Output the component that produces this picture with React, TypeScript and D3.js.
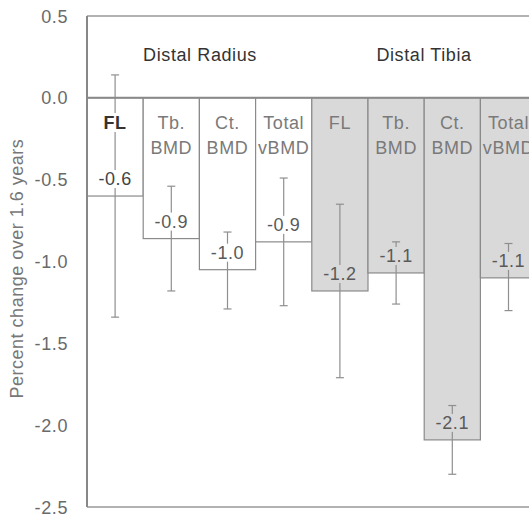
import * as React from 'react';
import * as d3 from 'd3';

const groups = ['Distal Radius', 'Distal Tibia'];
const categories = [
  ['FL'], ['Tb.', 'BMD'], ['Ct.', 'BMD'], ['Total', 'vBMD'],
  ['FL'], ['Tb.', 'BMD'], ['Ct.', 'BMD'], ['Total', 'vBMD'],
];
const site = [0, 0, 0, 0, 1, 1, 1, 1];
const values = [-0.6, -0.86, -1.05, -0.88, -1.18, -1.07, -2.09, -1.1];
const valueLabels = ['-0.6', '-0.9', '-1.0', '-0.9', '-1.2', '-1.1', '-2.1', '-1.1'];
const errHigh = [0.14, -0.54, -0.82, -0.49, -0.65, -0.88, -1.88, -0.89];
const errLow = [-1.34, -1.18, -1.29, -1.27, -1.71, -1.26, -2.3, -1.3];
const yTicks = [0.5, 0.0, -0.5, -1.0, -1.5, -2.0, -2.5];

const W = 529;
const H = 519;
const left = 87;
const top = 16;
const bottom = 507;
const barW = 56.2;

export default function App() {
  const y = d3.scaleLinear().domain([0.5, -2.5]).range([top, bottom]);
  const x = d3.scaleBand<number>()
    .domain(d3.range(values.length))
    .range([left, left + barW * values.length])
    .padding(0);
  const font = 'Liberation Sans, Arial, sans-serif';
  const fills = ['#ffffff', '#d9d9d9'];
  const fs = 18;
  const ls = 0.6;

  return (
    <svg width={W} height={H} style={{ position: 'absolute', left: 0, top: 0 }} fontFamily={font}>
      <rect width={W} height={H} fill="#fff" />
      {/* bars */}
      {values.map((v, i) => (
        <rect key={'b' + i} x={x(i)} y={y(0)} width={x.bandwidth()} height={y(v) - y(0)}
          fill={fills[site[i]]} stroke="#8a8a8a" strokeWidth={1.2} />
      ))}
      {/* error bars */}
      {values.map((v, i) => {
        const cx = (x(i) as number) + x.bandwidth() / 2;
        return (
          <g key={'e' + i} stroke="#8f8f8f" strokeWidth={1.2}>
            <line x1={cx} x2={cx} y1={y(errHigh[i])} y2={y(errLow[i])} />
            <line x1={cx - 4} x2={cx + 4} y1={y(errHigh[i])} y2={y(errHigh[i])} />
            <line x1={cx - 4} x2={cx + 4} y1={y(errLow[i])} y2={y(errLow[i])} />
          </g>
        );
      })}
      {/* frame */}
      <line x1={left} x2={W} y1={top} y2={top} stroke="#999" strokeWidth={1.5} />
      <line x1={left} x2={W} y1={bottom} y2={bottom} stroke="#999" strokeWidth={1.5} />
      <line x1={left} x2={left} y1={top} y2={bottom} stroke="#888" strokeWidth={2} />
      <line x1={left} x2={W} y1={y(0)} y2={y(0)} stroke="#8a8a8a" strokeWidth={2} />
      {/* category labels */}
      {categories.map((lines, i) => {
        const cx = (x(i) as number) + x.bandwidth() / 2;
        const bold = i === 0;
        return (
          <g key={'c' + i}>
            {lines.map((t, j) => {
              const w = t.length > 3 ? 52 : t.length * 11 + 4;
              return (
                <g key={j}>
                  <rect x={cx - w / 2} y={113 + j * 25} width={w} height={19} fill={fills[site[i]]} />
                  <text x={cx} y={129 + j * 25} textAnchor="middle" fontSize={fs} letterSpacing={ls}
                    fontWeight={bold ? 'bold' : 'normal'} fill={bold ? '#333' : '#7a7a7a'}>{t}</text>
                </g>
              );
            })}
          </g>
        );
      })}
      {/* value labels */}
      {values.map((v, i) => {
        const cx = (x(i) as number) + x.bandwidth() / 2;
        const yy = y(v) - 11;
        return (
          <g key={'v' + i}>
            <rect x={cx - 18} y={yy - 15} width={36} height={18} fill={fills[site[i]]} />
            <text x={cx} y={yy} textAnchor="middle" fontSize={fs} letterSpacing={ls}
              fill={i === 0 ? '#444' : '#5a5a5a'}>{valueLabels[i]}</text>
          </g>
        );
      })}
      {/* group titles */}
      {groups.map((g, k) => (
        <text key={g} x={k === 0 ? 200 - 0 : 424} y={61} textAnchor="middle" fontSize={fs}
          letterSpacing={ls} fill="#333">{g}</text>
      ))}
      {/* y ticks */}
      {yTicks.map(t => (
        <text key={t} x={68} y={y(t) + 6.5} textAnchor="end" fontSize={fs} letterSpacing={ls}
          fill="#6a6a6a">{t.toFixed(1)}</text>
      ))}
      <text transform={`translate(23,${(y(-0.5) + y(-1.55)) / 2 + 3}) rotate(-90)`} textAnchor="middle"
        fontSize={fs} letterSpacing={0.5} fill="#777">Percent change over 1.6 years</text>
    </svg>
  );
}
